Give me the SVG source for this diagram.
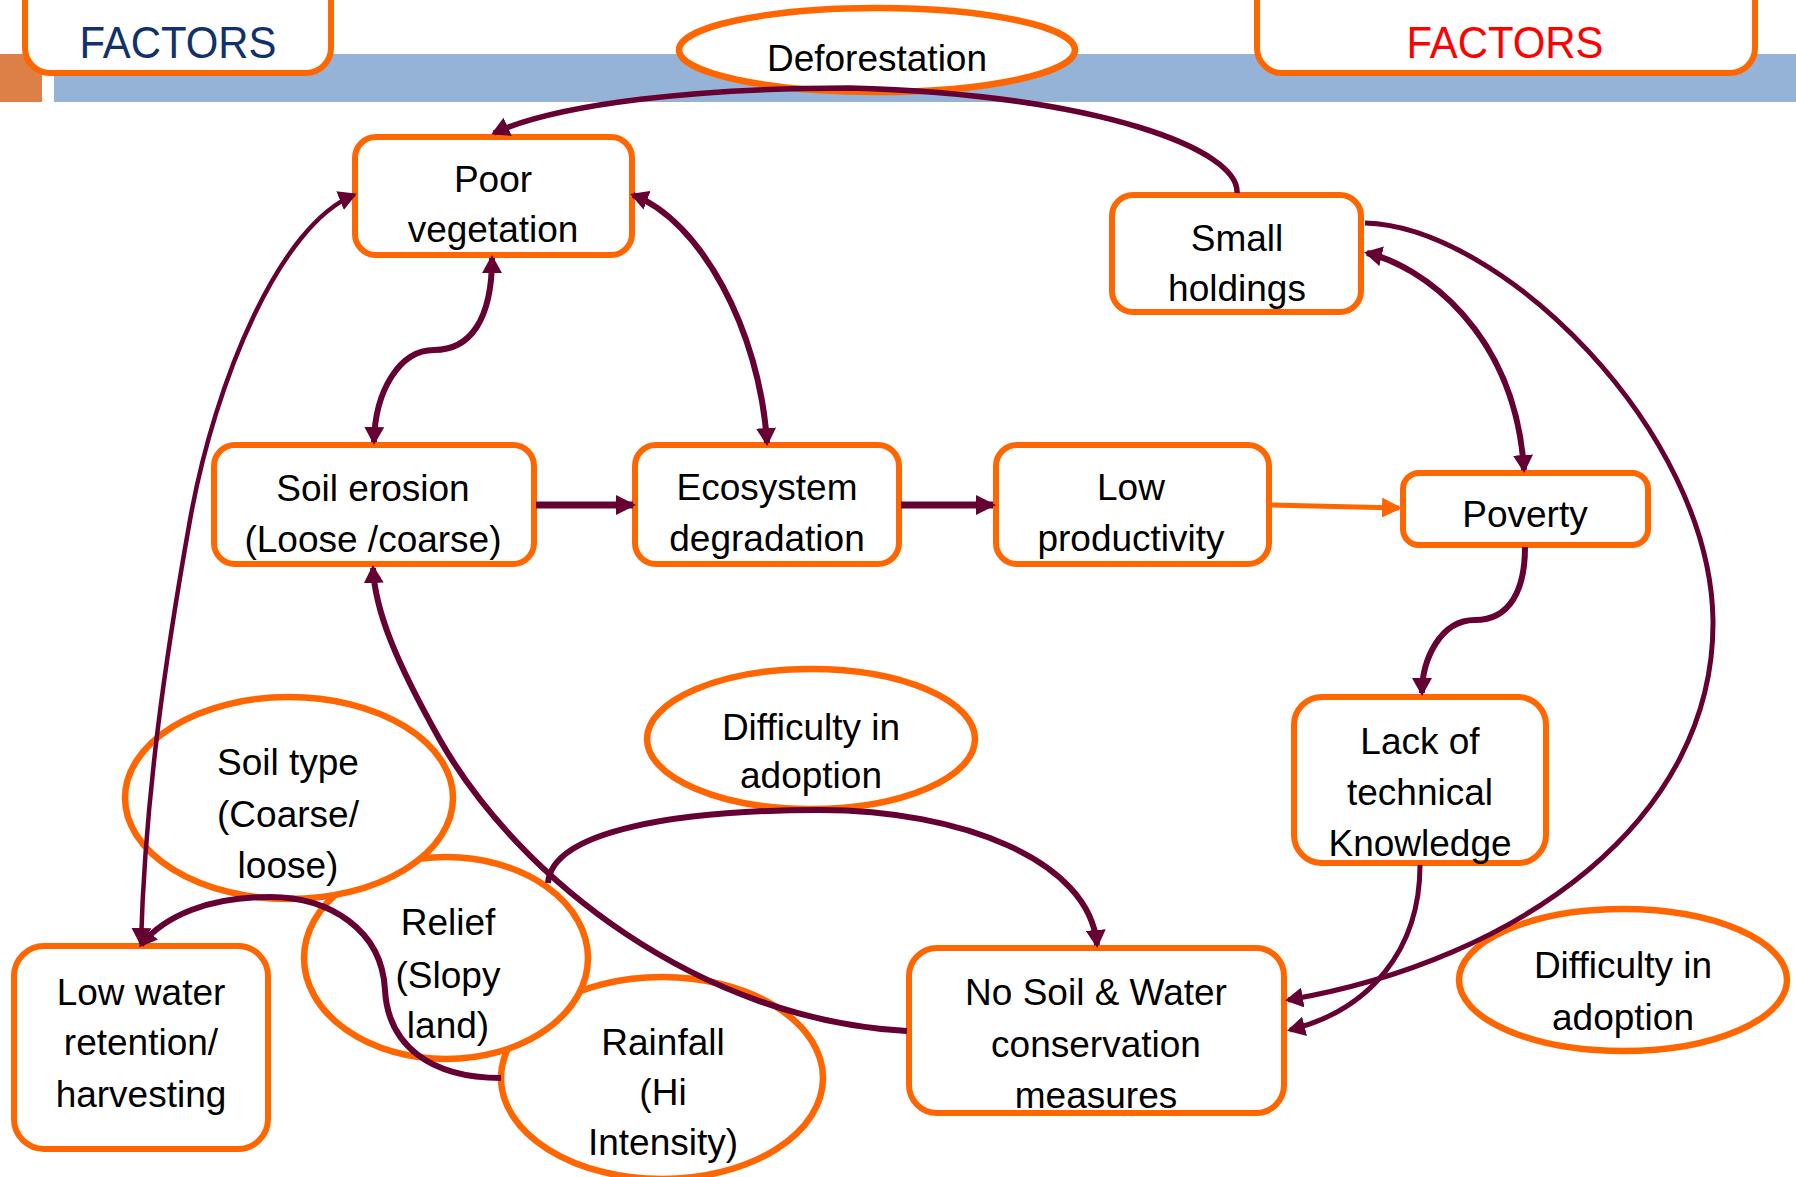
<svg xmlns="http://www.w3.org/2000/svg" width="1796" height="1177" viewBox="0 0 1796 1177">
<style>
.box{fill:#fff;stroke:#FF6600;stroke-width:6}
.ell{fill:#fff;stroke:#FF6600;stroke-width:6.5}
.t{font-family:"Liberation Sans",Arial,sans-serif;font-size:37px;fill:#000;text-anchor:middle}
.hd{font-family:"Liberation Sans",Arial,sans-serif;font-size:44px;text-anchor:middle}
.c{fill:none;stroke:#660033;stroke-width:6}
</style>
<defs>
<marker id="ah" viewBox="0 0 18 20" refX="15" refY="10" markerWidth="18" markerHeight="20" markerUnits="userSpaceOnUse" orient="auto-start-reverse">
<path d="M0,0 L18,10 L0,20 z" fill="#660033"/>
</marker>
<marker id="ahb" viewBox="0 0 20 20" refX="17" refY="10" markerWidth="20" markerHeight="20" markerUnits="userSpaceOnUse" orient="auto">
<path d="M0,0 L20,10 L0,20 z" fill="#660033"/>
</marker>
<marker id="aho" viewBox="0 0 20 20" refX="17" refY="10" markerWidth="20" markerHeight="20" markerUnits="userSpaceOnUse" orient="auto">
<path d="M0,0 L20,10 L0,20 z" fill="#FF6600"/>
</marker>
</defs>
<rect width="1796" height="1177" fill="#fff"/>
<g id="banner">
<rect x="0" y="54" width="42" height="48" fill="#DD8047"/>
<rect x="54" y="54" width="1742" height="48" fill="#95B3D7"/>
</g>
<g id="factors-left">
<rect class="box" x="25" y="-40" width="306" height="113" rx="25"/>
<text class="hd" x="178" y="58" fill="#10316B" textLength="197" lengthAdjust="spacingAndGlyphs">FACTORS</text>
</g>
<g id="factors-right">
<rect class="box" x="1257" y="-40" width="498" height="113" rx="25"/>
<text class="hd" x="1505" y="58" fill="#FF0000" textLength="197" lengthAdjust="spacingAndGlyphs">FACTORS</text>
</g>
<g id="deforestation">
<ellipse class="ell" cx="877" cy="50" rx="198" ry="42"/>
<text class="t" x="877" y="71">Deforestation</text>
</g>
<g id="poor-vegetation">
<rect class="box" x="355" y="137" width="277" height="118" rx="21"/>
<text class="t" x="493" y="192">Poor</text>
<text class="t" x="493" y="242">vegetation</text>
</g>
<g id="small-holdings">
<rect class="box" x="1112" y="195" width="249" height="117" rx="21"/>
<text class="t" x="1237" y="251">Small</text>
<text class="t" x="1237" y="301">holdings</text>
</g>
<g id="soil-erosion">
<rect class="box" x="214" y="445" width="320" height="119" rx="21"/>
<text class="t" x="373" y="501">Soil erosion</text>
<text class="t" x="373" y="552">(Loose /coarse)</text>
</g>
<g id="ecosystem-degradation">
<rect class="box" x="635" y="445" width="264" height="119" rx="21"/>
<text class="t" x="767" y="500">Ecosystem</text>
<text class="t" x="767" y="551">degradation</text>
</g>
<g id="low-productivity">
<rect class="box" x="996" y="445" width="273" height="119" rx="21"/>
<text class="t" x="1131" y="500">Low</text>
<text class="t" x="1131" y="551">productivity</text>
</g>
<g id="poverty">
<rect class="box" x="1403" y="473" width="245" height="72" rx="16"/>
<text class="t" x="1525" y="527">Poverty</text>
</g>
<g id="lack-knowledge">
<rect class="box" x="1294" y="697" width="252" height="166" rx="28"/>
<text class="t" x="1420" y="754">Lack of</text>
<text class="t" x="1420" y="805">technical</text>
<text class="t" x="1420" y="856">Knowledge</text>
</g>
<g id="low-water">
<rect class="box" x="14" y="946" width="254" height="203" rx="30"/>
<text class="t" x="141" y="1005">Low water</text>
<text class="t" x="141" y="1055">retention/</text>
<text class="t" x="141" y="1107">harvesting</text>
</g>
<g id="no-swc">
<rect class="box" x="909" y="948" width="375" height="165" rx="28"/>
<text class="t" x="1096" y="1005">No Soil &amp; Water</text>
<text class="t" x="1096" y="1057">conservation</text>
<text class="t" x="1096" y="1108">measures</text>
</g>
<g id="difficulty-mid">
<ellipse class="ell" cx="811" cy="739" rx="164" ry="70"/>
<text class="t" x="811" y="740">Difficulty in</text>
<text class="t" x="811" y="788">adoption</text>
</g>
<g id="difficulty-right">
<ellipse class="ell" cx="1623" cy="980" rx="164" ry="71"/>
<text class="t" x="1623" y="978">Difficulty in</text>
<text class="t" x="1623" y="1030">adoption</text>
</g>
<g id="rainfall">
<ellipse class="ell" cx="662" cy="1078" rx="161" ry="101"/>
<text class="t" x="663" y="1055">Rainfall</text>
<text class="t" x="663" y="1105">(Hi</text>
<text class="t" x="663" y="1155">Intensity)</text>
</g>
<g id="relief">
<ellipse class="ell" cx="446" cy="958" rx="142" ry="101"/>
<text class="t" x="448" y="935">Relief</text>
<text class="t" x="448" y="988">(Slopy</text>
<text class="t" x="448" y="1038">land)</text>
</g>
<g id="soil-type">
<ellipse class="ell" cx="289" cy="798" rx="164" ry="101"/>
<text class="t" x="288" y="775">Soil type</text>
<text class="t" x="288" y="827">(Coarse/</text>
<text class="t" x="288" y="878">loose)</text>
</g>
<g id="connectors">
<path class="c" style="stroke-width:5.5" d="M1237,193 C1240,150 1100,95 850,88 C700,88 560,103 494,133" marker-end="url(#ah)"/>
<path class="c" d="M492,258 C492,320 470,350 434,350 C400,350 375,390 374,442" marker-start="url(#ah)" marker-end="url(#ah)"/>
<path class="c" d="M633,195 C700,220 760,330 767,443" marker-start="url(#ah)" marker-end="url(#ah)"/>
<path class="c" style="stroke-width:4.5" d="M354,195 C280,225 215,380 190,520 C165,660 145,800 141,943" marker-start="url(#ah)" marker-end="url(#ah)"/>
<path class="c" style="stroke-width:7" d="M536,505 L633,505" marker-end="url(#ahb)"/>
<path class="c" style="stroke-width:7" d="M901,505 L993,505" marker-end="url(#ahb)"/>
<path fill="none" stroke="#FF6600" stroke-width="5" d="M1271,505 L1399,508" marker-end="url(#aho)"/>
<path class="c" d="M1367,253 C1420,265 1515,330 1524,470" marker-start="url(#ah)" marker-end="url(#ah)"/>
<path class="c" style="stroke-width:5" d="M1365,223 C1500,226 1710,430 1713,620 C1715,820 1520,960 1288,1000" marker-end="url(#ah)"/>
<path class="c" d="M1525,547 C1525,590 1510,620 1475,620 C1440,620 1422,660 1422,693" marker-end="url(#ah)"/>
<path class="c" style="stroke-width:5" d="M1420,865 C1420,950 1370,1010 1290,1030" marker-end="url(#ah)"/>
<path class="c" d="M907,1031 C700,1020 520,880 440,740 C395,660 375,610 373,568" marker-end="url(#ah)"/>
<path class="c" d="M548,883 C552,830 680,810 820,810 C960,810 1090,860 1097,945" marker-end="url(#ah)"/>
<path class="c" d="M501,1078 C430,1078 388,1045 385,990 C382,930 330,897 270,897 C210,897 165,915 141,945" marker-end="url(#ah)"/>
</g>
</svg>
